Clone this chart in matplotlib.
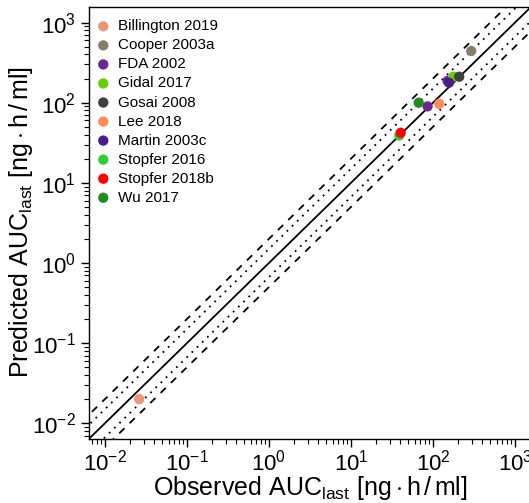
import numpy as np
import matplotlib
matplotlib.use("Agg")
import matplotlib.pyplot as plt

plt.rcParams["font.family"] = ["Liberation Sans", "DejaVu Sans"]
plt.rcParams["mathtext.fontset"] = "custom"
plt.rcParams["mathtext.rm"] = "Liberation Sans"
plt.rcParams["mathtext.it"] = "Liberation Sans:italic"
plt.rcParams["mathtext.bf"] = "Liberation Sans:bold"

# ---- data ----------------------------------------------------------------
studies = ["Billington 2019", "Cooper 2003a", "FDA 2002", "Gidal 2017",
           "Gosai 2008", "Lee 2018", "Martin 2003c", "Stopfer 2016",
           "Stopfer 2018b", "Wu 2017"]
colors = ["#e9967a", "#8b7d6b", "#6a2a8e", "#66cd00", "#404040",
          "#ff8c5a", "#4b1c8c", "#32cd32", "#ff0000", "#228b22"]
observed = [[0.0262], [293.0], [86.0, 151.0], [177.0], [209.0],
            [119.0], [157.0], [38.8], [40.4], [67.0]]
predicted = [[0.0200], [442.0], [90.0, 187.0], [211.0], [211.0],
             [97.0], [178.0], [39.0], [42.2], [100.0]]

lim = (10 ** -2.19, 10 ** 3.2)
fold_inner = 1.5
fold_outer = 2.0

fig = plt.figure(figsize=(5.29, 5.03), dpi=100)
ax = fig.add_axes([0.1688, 0.1282, 0.8357, 0.8588])

xx = np.array([1e-4, 1e5])
ax.plot(xx, xx, color="black", lw=1.3, zorder=1)
for f in (fold_inner, 1 / fold_inner):
    ax.plot(xx, xx * f, color="black", lw=1.3, ls=(0, (1, 3)), zorder=1)
for f in (fold_outer, 1 / fold_outer):
    ax.plot(xx, xx * f, color="black", lw=1.3, ls=(0, (4, 4)), zorder=1)

for name, col, obs, pred in zip(studies, colors, observed, predicted):
    ax.scatter(obs, pred, s=55, color=col, edgecolors="none", label=name,
               zorder=3)

ax.set_xscale("log")
ax.set_yscale("log")
ax.set_xlim(lim)
ax.set_ylim(lim)

ax.tick_params(which="major", length=6, width=1, labelsize=16, direction="out")
ax.tick_params(which="minor", length=3.5, width=0.8, direction="out")
ax.tick_params(axis="x", which="major", pad=2)
for s in ax.spines.values():
    s.set_linewidth(1)

unit = r"$\left[\mathrm{ng\cdot h\,/\,ml}\right]$"
ax.set_xlabel(r"Observed AUC$_{\mathrm{last}}$ " + unit, fontsize=18, labelpad=-1)
ax.set_ylabel(r"Predicted AUC$_{\mathrm{last}}$ " + unit, fontsize=18, labelpad=-2)

ax.legend(loc="upper left", bbox_to_anchor=(0.0, 0.985), frameon=False,
          fontsize=11, handletextpad=0.48, labelspacing=0.33,
          borderaxespad=0.0, borderpad=0.415, handlelength=1.0,
          scatterpoints=1)

fig.savefig("out.png", dpi=100)
